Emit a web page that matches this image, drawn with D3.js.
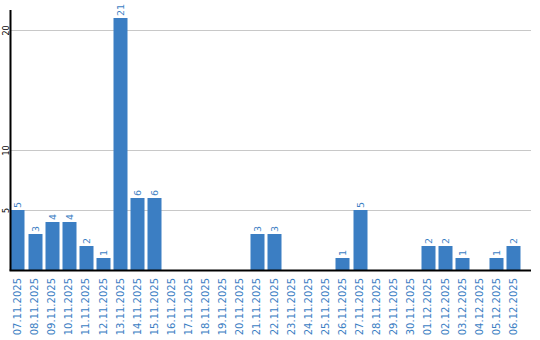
<!DOCTYPE html>
<html><head><meta charset="utf-8">
<script src="https://cdn.jsdelivr.net/npm/d3@7"></script>
<style>body{margin:0;background:#fff}svg{display:block}</style>
</head><body>
<svg id="c" width="540" height="340"></svg>
<script>
const categories = ["07.11.2025","08.11.2025","09.11.2025","10.11.2025","11.11.2025","12.11.2025","13.11.2025","14.11.2025","15.11.2025","16.11.2025","17.11.2025","18.11.2025","19.11.2025","20.11.2025","21.11.2025","22.11.2025","23.11.2025","24.11.2025","25.11.2025","26.11.2025","27.11.2025","28.11.2025","29.11.2025","30.11.2025","01.12.2025","02.12.2025","03.12.2025","04.12.2025","05.12.2025","06.12.2025"];
const values = [5,3,4,4,2,1,21,6,6,0,0,0,0,0,3,3,0,0,0,1,5,0,0,0,2,2,1,0,1,2];
const yTicks = [5,10,20];

const svg = d3.select("#c");
const blue = "#3b7ec3";
const x0 = 10.5, x1 = 531, yBase = 270, yTop = 10;
const x = d3.scaleBand().domain(categories).range([x0, x0 + 17*categories.length]).paddingInner(3/17).paddingOuter(0);
const y = d3.scaleLinear().domain([0, 260/12]).range([yBase, yTop]);

// gridlines
svg.append("g").selectAll("line").data(yTicks).join("line")
  .attr("x1", x0).attr("x2", x1)
  .attr("y1", d => Math.round(y(d)) + 0.5).attr("y2", d => Math.round(y(d)) + 0.5)
  .attr("stroke", "#c8c8c8").attr("stroke-width", 1);

// bars
svg.append("g").selectAll("rect").data(values.map((v,i)=>({c:categories[i], v}))).join("rect")
  .attr("x", d => Math.round(x(d.c)) + 0.5)
  .attr("width", Math.round(x.bandwidth()))
  .attr("y", d => y(d.v))
  .attr("height", d => yBase - y(d.v))
  .attr("fill", blue)
  .attr("display", d => d.v > 0 ? null : "none");

// value labels
svg.append("g").selectAll("text").data(values.map((v,i)=>({c:categories[i], v})).filter(d => d.v > 0)).join("text")
  .attr("transform", d => `translate(${Math.round(x(d.c)) + 0.5 + x.bandwidth()/2 + 3.5},${y(d.v) - 2}) rotate(-90)`)
  .attr("text-anchor", "start")
  .attr("font-family", "DejaVu Sans, Verdana, sans-serif")
  .attr("font-size", "9.5px")
  .attr("fill", blue)
  .text(d => d.v);

// x axis via d3 axis
const xAxis = svg.append("g").attr("transform", `translate(0,${yBase})`)
  .call(d3.axisBottom(x).tickSize(0).tickPadding(0));
xAxis.select(".domain").remove();
xAxis.selectAll("text")
  .attr("transform", "translate(3.5,8) rotate(-90)")
  .attr("text-anchor", "end")
  .attr("dy", "0")
  .attr("y", 0)
  .attr("x", 0)
  .attr("font-family", "DejaVu Sans, Verdana, sans-serif")
  .attr("font-size", "10px")
  .attr("fill", blue);

// y tick labels
const yAxis = svg.append("g").attr("transform", `translate(${x0},0)`)
  .call(d3.axisLeft(y).tickValues(yTicks).tickSize(0).tickPadding(0).tickFormat(d3.format("d")));
yAxis.select(".domain").remove();
yAxis.selectAll("text")
  .attr("transform", "translate(-2,0) rotate(-90)")
  .attr("text-anchor", "middle")
  .attr("x", 0).attr("y", 0).attr("dy", "0")
  .attr("font-family", "DejaVu Sans, Verdana, sans-serif")
  .attr("font-size", "8px")
  .attr("fill", "#000");

// axis lines
svg.append("line").attr("x1", x0).attr("x2", x0).attr("y1", yTop).attr("y2", yBase + 0.5).attr("stroke", "#000").attr("stroke-width", 2);
svg.append("line").attr("x1", x0 - 1).attr("x2", x1).attr("y1", yBase + 0.5).attr("y2", yBase + 0.5).attr("stroke", "#000").attr("stroke-width", 2);
</script>
</body></html>
